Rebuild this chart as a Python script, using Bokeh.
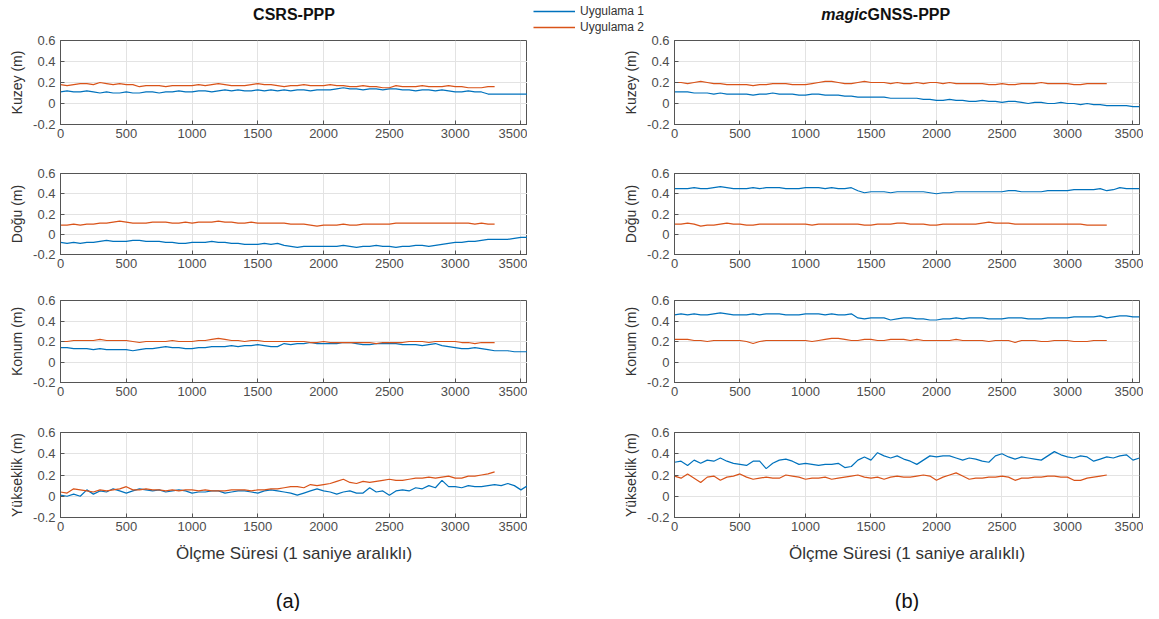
from bokeh.plotting import figure
from bokeh.layouts import column, row
from bokeh.models import (Range1d, FixedTicker, CustomJSTickFormatter, Label,
                          Legend, LegendItem)
from bokeh.embed import file_html
from bokeh.resources import INLINE

# ---------------- data (sampled every 50 s) ----------------
STEP = 50
x_ticks = [0, 500, 1000, 1500, 2000, 2500, 3000, 3500]
y_ticks = [-0.2, 0, 0.2, 0.4, 0.6]
series_names = ["Uygulama 1", "Uygulama 2"]
row_labels = ["Kuzey (m)", "Doğu (m)", "Konum (m)", "Yükseklik (m)"]
x_label = "Ölçme Süresi (1 saniye aralıklı)"
panel_tags = ["(a)", "(b)"]

# CSRS-PPP
csrs_kuzey_1 = [.11,.12,.11,.11,.12,.11,.10,.11,.10,.10, .11,.10,.10,.11,.11,.10,.11,.11,.12,.11,
                .11,.12,.12,.11,.12,.13,.12,.13,.12,.12, .13,.12,.13,.12,.13,.12,.13,.13,.12,.13,
                .13,.13,.14,.15,.14,.14,.13,.14,.14,.13, .14,.14,.13,.13,.12,.13,.13,.12,.13,.12,
                .11,.11,.12,.11,.11,.09,.09,.09,.09,.09, .09,.09]
csrs_kuzey_2 = [.18,.17,.18,.19,.19,.18,.20,.19,.18,.19, .18,.18,.16,.17,.17,.17,.16,.17,.17,.17,
                .17,.18,.17,.18,.19,.18,.17,.17,.17,.18, .19,.18,.18,.17,.16,.17,.17,.18,.17,.17,
                .17,.18,.17,.17,.16,.16,.17,.16,.16,.15, .15,.17,.16,.16,.16,.17,.16,.16,.16,.17,
                .16,.16,.15,.15,.15,.16,.16]
csrs_dogu_1 = [-.08,-.09,-.08,-.09,-.08,-.08,-.07,-.06,-.07,-.07, -.07,-.06,-.06,-.07,-.07,-.07,-.08,-.08,-.09,-.09,
               -.08,-.08,-.08,-.07,-.08,-.08,-.09,-.09,-.10,-.10, -.10,-.09,-.10,-.09,-.11,-.12,-.13,-.12,-.12,-.12,
               -.12,-.12,-.12,-.11,-.12,-.13,-.12,-.12,-.11,-.12, -.12,-.13,-.12,-.12,-.11,-.11,-.12,-.11,-.10,-.09,
               -.08,-.08,-.07,-.07,-.06,-.05,-.05,-.05,-.05,-.04, -.03,-.03]
csrs_dogu_2 = [.09,.09,.10,.09,.10,.10,.11,.11,.12,.13, .12,.11,.11,.11,.12,.12,.12,.11,.11,.12,
               .11,.12,.12,.12,.13,.12,.12,.11,.11,.12, .11,.11,.11,.11,.11,.10,.10,.10,.09,.08,
               .09,.09,.09,.10,.09,.09,.10,.10,.10,.10, .10,.11,.11,.11,.11,.11,.11,.11,.11,.11,
               .11,.11,.11,.10,.11,.10,.10]
csrs_konum_1 = [.14,.14,.13,.13,.13,.12,.13,.12,.12,.12, .12,.11,.12,.13,.13,.14,.15,.14,.14,.13,
                .13,.14,.14,.15,.15,.15,.16,.15,.16,.16, .17,.16,.15,.15,.18,.17,.18,.18,.19,.18,
                .18,.18,.18,.19,.19,.18,.17,.17,.18,.18, .18,.18,.17,.17,.17,.16,.17,.18,.16,.15,
                .14,.13,.13,.14,.13,.12,.11,.11,.11,.10, .10,.10]
csrs_konum_2 = [.20,.20,.21,.21,.21,.21,.22,.21,.21,.21, .21,.20,.19,.20,.20,.20,.20,.21,.20,.20,
                .20,.21,.21,.22,.23,.22,.21,.21,.20,.21, .21,.20,.20,.20,.20,.20,.20,.20,.19,.19,
                .20,.19,.19,.19,.19,.19,.19,.19,.18,.19, .19,.19,.19,.20,.20,.20,.19,.20,.20,.20,
                .20,.19,.19,.18,.19,.19,.19]
csrs_yuk_1 = [.01,.00,.02,.00,.06,.02,.05,.04,.07,.05, .03,.05,.07,.06,.05,.06,.04,.05,.06,.05,
              .03,.04,.04,.05,.05,.03,.04,.05,.05,.04, .03,.05,.06,.05,.04,.03,.01,.03,.05,.07,
              .05,.04,.02,.04,.05,.03,.03,.08,.04,.05, .01,.05,.06,.05,.08,.07,.10,.08,.15,.09,
              .09,.08,.10,.09,.09,.10,.11,.10,.12,.10, .06,.10]
csrs_yuk_2 = [.04,.03,.07,.06,.05,.04,.06,.05,.06,.07, .09,.06,.06,.07,.06,.06,.05,.06,.05,.06,
              .06,.05,.06,.05,.05,.05,.06,.06,.06,.05, .06,.06,.07,.07,.08,.09,.09,.08,.11,.10,
              .11,.12,.14,.16,.13,.12,.14,.13,.14,.15, .16,.15,.15,.16,.17,.17,.18,.17,.18,.19,
              .17,.17,.19,.19,.20,.21,.23]

# magicGNSS-PPP
magic_kuzey_1 = [.11,.11,.11,.10,.10,.10,.09,.10,.09,.09, .09,.09,.08,.09,.09,.10,.09,.09,.09,.08,
                 .08,.09,.09,.08,.08,.08,.07,.07,.06,.06, .06,.06,.06,.05,.05,.05,.05,.05,.04,.04,
                 .03,.03,.04,.03,.03,.02,.02,.03,.02,.02, .01,.02,.02,.01,.00,.01,.01,.00,.00,.01,
                 .00,.00,-.01,.00,-.01,-.01,-.02,-.02,-.02,-.02, -.03,-.03]
magic_kuzey_2 = [.20,.20,.19,.20,.21,.20,.19,.19,.18,.18, .18,.18,.17,.18,.18,.19,.19,.19,.18,.18,
                 .18,.19,.20,.21,.21,.20,.19,.19,.20,.21, .20,.20,.20,.19,.20,.19,.19,.20,.19,.20,
                 .20,.19,.20,.19,.19,.19,.19,.19,.18,.18, .19,.18,.18,.19,.19,.19,.20,.19,.19,.19,
                 .19,.18,.18,.19,.19,.19,.19]
magic_dogu_1 = [.45,.45,.45,.46,.45,.45,.46,.47,.46,.45, .45,.45,.46,.45,.46,.46,.46,.45,.45,.45,
                .46,.46,.46,.45,.46,.45,.45,.46,.43,.41, .42,.42,.42,.41,.42,.42,.42,.42,.42,.41,
                .40,.41,.41,.42,.42,.42,.42,.42,.42,.42, .42,.43,.43,.42,.42,.42,.42,.43,.43,.43,
                .43,.44,.44,.44,.44,.45,.43,.44,.46,.45, .45,.45]
magic_dogu_2 = [.10,.10,.11,.10,.08,.09,.09,.10,.11,.10, .10,.09,.09,.10,.10,.10,.10,.10,.10,.10,
                .10,.09,.10,.10,.10,.10,.10,.10,.10,.09, .09,.10,.10,.10,.11,.11,.10,.10,.10,.09,
                .09,.10,.10,.10,.10,.10,.10,.11,.12,.11, .11,.11,.10,.10,.10,.10,.10,.10,.10,.10,
                .10,.10,.10,.09,.09,.09,.09]
magic_konum_1 = [.46,.47,.46,.47,.46,.46,.47,.48,.47,.46, .46,.46,.47,.46,.47,.47,.47,.46,.46,.46,
                 .47,.47,.47,.46,.47,.46,.46,.47,.43,.42, .43,.43,.43,.41,.42,.43,.43,.42,.42,.41,
                 .41,.42,.42,.43,.42,.43,.43,.43,.42,.42, .42,.43,.43,.43,.42,.42,.42,.43,.43,.43,
                 .43,.44,.44,.44,.44,.45,.43,.44,.45,.45, .44,.44]
magic_konum_2 = [.22,.22,.22,.21,.21,.20,.21,.21,.21,.21, .21,.20,.18,.20,.21,.21,.21,.21,.21,.21,
                 .21,.20,.21,.22,.23,.23,.22,.21,.21,.22, .22,.21,.21,.22,.22,.22,.21,.22,.21,.21,
                 .21,.21,.21,.22,.21,.21,.21,.21,.20,.21, .21,.21,.19,.21,.21,.21,.20,.20,.21,.21,
                 .21,.20,.20,.20,.21,.21,.21]
magic_yuk_1 = [.32,.33,.29,.34,.31,.34,.33,.36,.33,.31, .30,.29,.33,.33,.26,.31,.34,.35,.33,.30,
               .31,.30,.29,.30,.30,.31,.27,.28,.34,.37, .34,.41,.38,.36,.38,.35,.33,.30,.34,.38,
               .37,.38,.38,.36,.34,.36,.35,.33,.32,.38, .40,.37,.35,.37,.36,.35,.34,.38,.42,.39,
               .37,.36,.38,.37,.33,.35,.37,.36,.38,.39, .34,.36]
magic_yuk_2 = [.19,.17,.21,.17,.13,.18,.19,.15,.18,.19, .21,.18,.16,.17,.18,.17,.17,.20,.19,.18,
               .16,.17,.17,.18,.16,.17,.18,.19,.20,.18, .17,.18,.16,.18,.19,.18,.18,.19,.20,.19,
               .15,.18,.20,.22,.19,.16,.17,.17,.18,.18, .19,.18,.15,.17,.17,.18,.18,.19,.19,.18,
               .18,.15,.15,.17,.18,.19,.20]

csrs = [(csrs_kuzey_1, csrs_kuzey_2), (csrs_dogu_1, csrs_dogu_2),
        (csrs_konum_1, csrs_konum_2), (csrs_yuk_1, csrs_yuk_2)]
magic = [(magic_kuzey_1, magic_kuzey_2), (magic_dogu_1, magic_dogu_2),
         (magic_konum_1, magic_konum_2), (magic_yuk_1, magic_yuk_2)]

# ---------------- styling / layout ----------------
BLUE = "#0072BD"
ORANGE = "#D95319"
FONT = "Liberation Sans"
FRAME_H = [84, 81, 82, 85]
BORDER_TOP = 6
BORDER_BOTTOM = [43, 40, 44, 50]
LEFT_FW, RIGHT_FW = 467, 465
LEFT_BL, RIGHT_BL = 60, 147
RIGHT_BR = 4
LEFT_W = LEFT_BL + LEFT_FW
TOTAL_W = LEFT_W + RIGHT_BL + RIGHT_FW + RIGHT_BR
HEADER_H = 34
FOOTER_H = 44

ytick_fmt = CustomJSTickFormatter(code="return Math.abs(tick) < 1e-9 ? '0' : tick.toFixed(1);")


def make_fig(i, data, fw, bl, br):
    b, o = data
    p = figure(frame_width=fw, frame_height=FRAME_H[i],
               x_range=Range1d(0, 3550), y_range=Range1d(-0.2, 0.6),
               output_backend="svg", toolbar_location=None,
               min_border_left=bl, min_border_right=br,
               min_border_top=BORDER_TOP, min_border_bottom=BORDER_BOTTOM[i])
    p.background_fill_color = "white"
    p.border_fill_color = "white"
    p.outline_line_color = "#555555"
    p.outline_line_width = 1
    p.line([k * STEP for k in range(len(b))], b, line_color=BLUE, line_width=1.2)
    p.line([k * STEP for k in range(len(o))], o, line_color=ORANGE, line_width=1.2)
    p.xaxis.ticker = FixedTicker(ticks=x_ticks)
    p.yaxis.ticker = FixedTicker(ticks=y_ticks)
    p.yaxis.formatter = ytick_fmt
    for ax in (p.xaxis[0], p.yaxis[0]):
        ax.axis_line_color = "#555555"
        ax.major_tick_line_color = "#555555"
        ax.major_tick_in = 4
        ax.major_tick_out = 0
        ax.minor_tick_line_color = None
        ax.major_label_text_font = FONT
        ax.major_label_text_font_size = "13px"
        ax.major_label_text_color = "#4d4d4d"
        ax.axis_label_text_font = FONT
        ax.axis_label_text_font_style = "normal"
        ax.axis_label_text_color = "#333333"
    p.xaxis.major_label_standoff = 4
    p.yaxis.major_label_standoff = 5
    p.yaxis.axis_label = row_labels[i]
    p.yaxis.axis_label_text_font_size = "14px"
    p.yaxis.axis_label_standoff = 5
    if i == 3:
        p.xaxis.axis_label = x_label
        p.xaxis.axis_label_text_font_size = "17px"
        p.xaxis.axis_label_standoff = 10
    p.grid.grid_line_color = "#e3e3e3"
    p.grid.grid_line_width = 1
    return p


def blank_fig(h):
    p = figure(frame_width=TOTAL_W, frame_height=h, x_range=Range1d(0, TOTAL_W),
               y_range=Range1d(0, h), output_backend="svg", toolbar_location=None,
               min_border=0, x_axis_type=None, y_axis_type=None)
    p.grid.visible = False
    p.outline_line_color = None
    p.background_fill_color = "white"
    p.border_fill_color = "white"
    return p


left_figs = [make_fig(i, csrs[i], LEFT_FW, LEFT_BL, 0) for i in range(4)]
right_figs = [make_fig(i, magic[i], RIGHT_FW, RIGHT_BL, RIGHT_BR) for i in range(4)]

# header: titles and legend
header = blank_fig(HEADER_H)
left_center = LEFT_BL + LEFT_FW / 2
right_left = LEFT_W + RIGHT_BL
title_y = HEADER_H - 14
header.add_layout(Label(x=left_center, y=title_y, x_units="screen", y_units="screen",
                        text="CSRS-PPP", text_align="center", text_baseline="middle",
                        text_font=FONT, text_font_size="16px", text_font_style="bold",
                        text_color="#111111"))
header.add_layout(Label(x=right_left + 193, y=title_y, x_units="screen", y_units="screen",
                        text="magic", text_align="right", text_baseline="middle",
                        text_font=FONT, text_font_size="16px", text_font_style="bold italic",
                        text_color="#111111"))
header.add_layout(Label(x=right_left + 193, y=title_y, x_units="screen", y_units="screen",
                        text="GNSS-PPP", text_align="left", text_baseline="middle",
                        text_font=FONT, text_font_size="16px", text_font_style="bold",
                        text_color="#111111"))
nan = float("nan")
lb = header.line(x=[nan, nan], y=[nan, nan], line_color=BLUE, line_width=1.5)
lo = header.line(x=[nan, nan], y=[nan, nan], line_color=ORANGE, line_width=1.5)
legend = Legend(items=[LegendItem(label=series_names[0], renderers=[lb]),
                       LegendItem(label=series_names[1], renderers=[lo])],
                location=(right_left - 141, 0), orientation="vertical",
                label_text_font=FONT, label_text_font_size="12px", label_text_color="#333333",
                glyph_width=42, glyph_height=14, label_height=14, label_standoff=5,
                spacing=2, padding=0, margin=0,
                border_line_alpha=0, background_fill_alpha=0)
header.add_layout(legend, "center")

# footer: (a) / (b)
footer = blank_fig(FOOTER_H)
footer.add_layout(Label(x=left_center - 6, y=11, x_units="screen", y_units="screen",
                        text=panel_tags[0], text_align="center", text_baseline="middle",
                        text_font=FONT, text_font_size="20px", text_color="#111111"))
footer.add_layout(Label(x=right_left + RIGHT_FW / 2, y=11, x_units="screen", y_units="screen",
                        text=panel_tags[1], text_align="center", text_baseline="middle",
                        text_font=FONT, text_font_size="20px", text_color="#111111"))

layout = column(header, *[row(left_figs[i], right_figs[i]) for i in range(4)], footer)
open("out.html", "w").write(file_html(layout, INLINE))
